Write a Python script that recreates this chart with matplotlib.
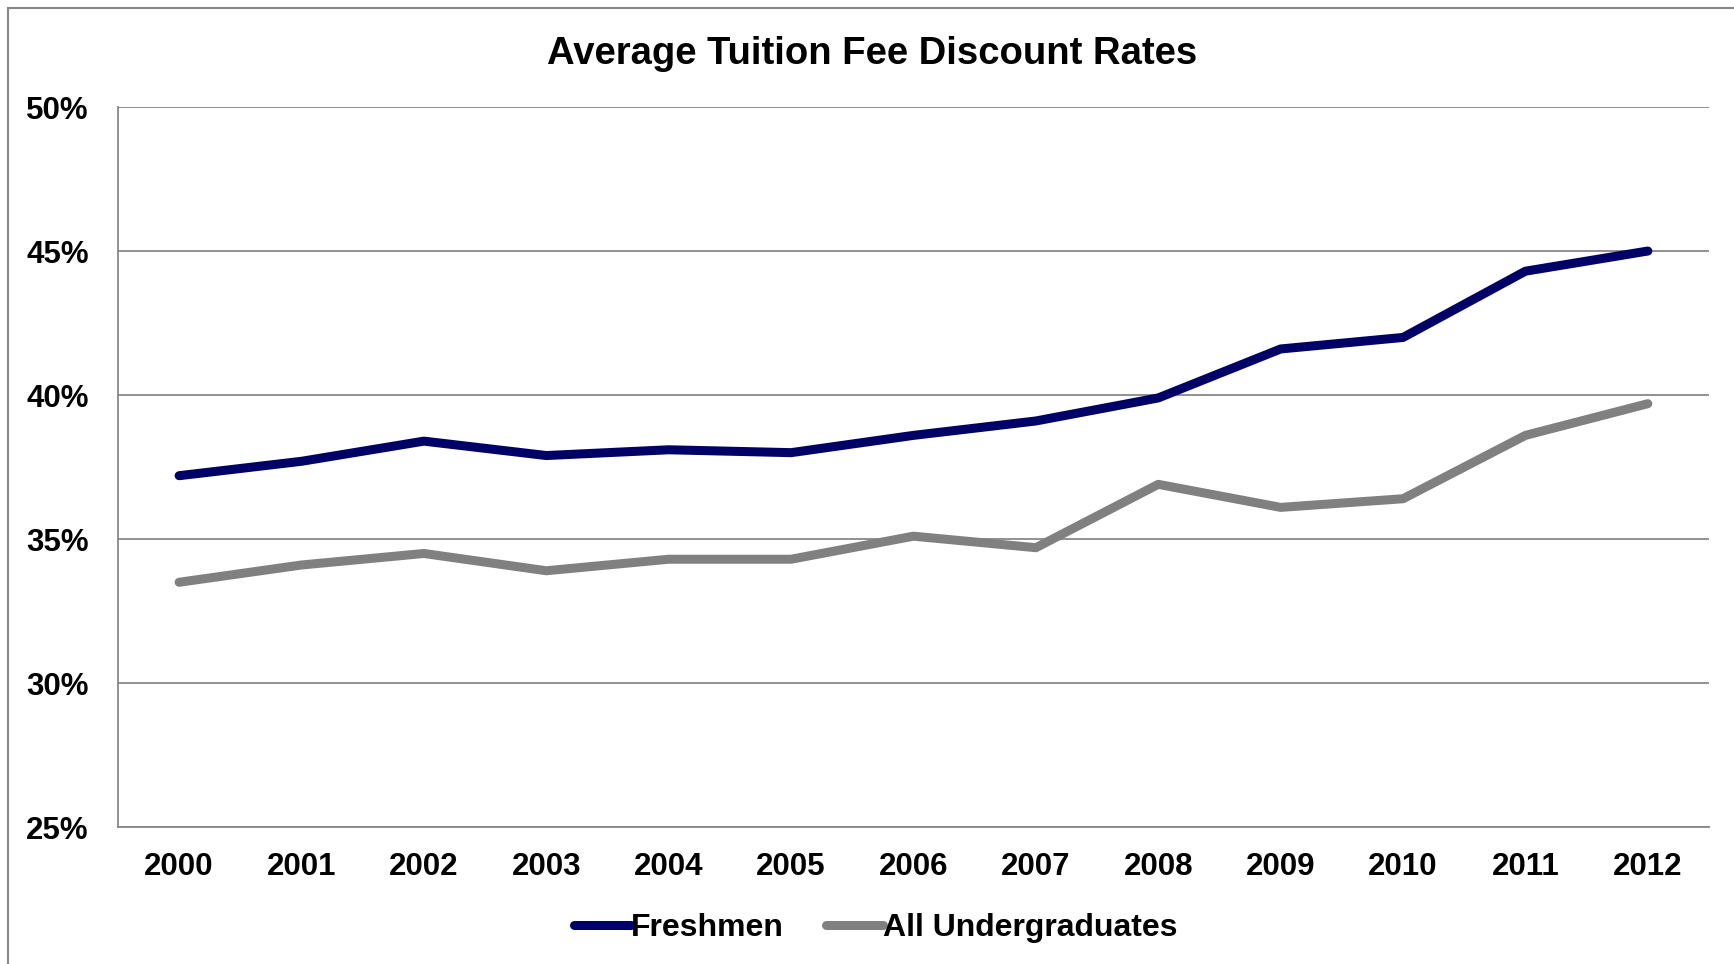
import matplotlib.pyplot as plt
import matplotlib.ticker as mtick
from matplotlib.patches import Rectangle

plt.rcParams['font.family'] = ['Liberation Sans', 'DejaVu Sans']

# chart data
years = [2000, 2001, 2002, 2003, 2004, 2005, 2006, 2007, 2008, 2009, 2010, 2011, 2012]
freshmen = [37.2, 37.7, 38.4, 37.9, 38.1, 38.0, 38.6, 39.1, 39.9, 41.6, 42.0, 44.3, 45.0]
all_undergrads = [33.5, 34.1, 34.5, 33.9, 34.3, 34.3, 35.1, 34.7, 36.9, 36.1, 36.4, 38.6, 39.7]

fig = plt.figure(figsize=(17.34, 9.64), dpi=100)
ax = fig.add_axes([0.068, 0.142, 0.9176, 0.747])

# outer chart border
fig.patches.append(Rectangle((8 / 1734, -0.01), 1.02, 1 - 8 / 964 + 0.01,
                             transform=fig.transFigure, fill=False,
                             edgecolor='#888888', linewidth=1.5))

x = list(range(len(years)))
ax.plot(x, freshmen, color='#000066', linewidth=6.5, solid_capstyle='round',
        label='Freshmen')
ax.plot(x, all_undergrads, color='#808080', linewidth=6.5, solid_capstyle='round',
        label='All Undergraduates')

ax.set_xlim(-0.5, len(years) - 0.5)
ax.set_ylim(25, 50)
ax.set_yticks([25, 30, 35, 40, 45, 50])
ax.yaxis.set_major_formatter(mtick.FuncFormatter(lambda v, p: '%d%%' % v))
ax.set_xticks(x)
ax.set_xticklabels([str(y) for y in years])

ax.grid(axis='y', color='#888888', linewidth=1.3)
ax.set_axisbelow(True)
for side in ['top', 'right']:
    ax.spines[side].set_visible(False)
ax.spines['left'].set_color('#888888')
ax.spines['bottom'].set_color('#888888')
ax.spines['left'].set_linewidth(1.3)
ax.spines['bottom'].set_linewidth(1.3)

ax.tick_params(axis='both', length=0, labelsize=22.5)
ax.tick_params(axis='x', pad=18)
ax.tick_params(axis='y', pad=21)
for lbl in ax.get_xticklabels() + ax.get_yticklabels():
    lbl.set_fontweight('bold')

fig.text(0.503, 0.944, 'Average Tuition Fee Discount Rates', ha='center',
         va='center', fontsize=27.5, fontweight='bold')

leg = fig.legend(loc='center', bbox_to_anchor=(0.505, 0.037), ncol=2,
                 frameon=False, handlelength=1.8, handletextpad=0.0,
                 columnspacing=1.3, prop={'weight': 'bold', 'size': 23})

fig.savefig('out.png', dpi=100)
